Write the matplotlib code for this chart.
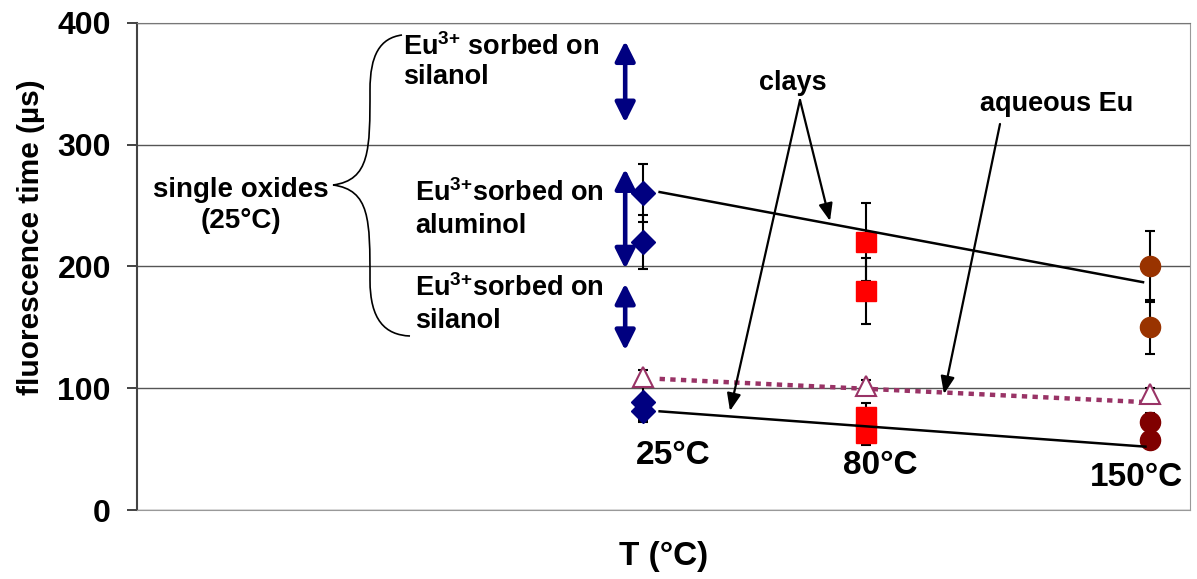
import matplotlib
matplotlib.use("Agg")
import matplotlib.pyplot as plt
from matplotlib.path import Path
from matplotlib.patches import PathPatch
import numpy as np

plt.rcParams['font.family'] = ['Liberation Sans', 'DejaVu Sans']
plt.rcParams['font.weight'] = 'bold'
plt.rcParams['mathtext.fontset'] = 'custom'
plt.rcParams['mathtext.rm'] = 'Liberation Sans'
plt.rcParams['mathtext.bf'] = 'Liberation Sans:bold'

# ---------------- data ----------------
temps = [25, 80, 150]
temp_labels = ["25°C", "80°C", "150°C"]

oxide_x = [25, 25]
oxide_y = [260, 220]
oxide_err = [24, 22]

clay25_x = [25, 25]
clay25_y = [89, 81]
clay25_err = [15, 9]

clay80_hi_x = [80, 80]
clay80_hi_y = [220, 180]
clay80_hi_err = [32, 27]
clay80_lo_x = [80, 80]
clay80_lo_y = [76, 63]
clay80_lo_err = [12, 10]

clay150_hi_x = [150, 150]
clay150_hi_y = [200, 150]
clay150_hi_err = [29, 22]
clay150_lo_x = [150, 150]
clay150_lo_y = [72, 57.5]
clay150_lo_err = [8, 6]

aq_x = [25, 80, 150]
aq_y = [109, 101.5, 95]
aq_err = [6, 5, 5]

aq_trend_x = [29, 148]
aq_trend_y = [107.6, 88.7]

guide_hi_x = [29, 148.4]
guide_hi_y = [261, 187]
guide_lo_x = [29, 149]
guide_lo_y = [81, 52]

# single-oxide ranges (25 °C), at x ~ 20.5
range_x = 20.5
range_silanol_top = (318, 385)
range_aluminol = (198, 280)
range_silanol_low = (131, 186)

yticks = [0, 100, 200, 300, 400]

# ---------------- figure ----------------
fig = plt.figure(figsize=(11.97, 5.79), dpi=100)
L, R, T, B = 137.3, 1190, 22.7, 510
W, H = 1197, 579
ax = fig.add_axes([L / W, 1 - B / H, (R - L) / W, (B - T) / H])
ax.set_xlim(-100, 160)
ax.set_ylim(0, 400)

def px(xp, yp):
    """convert reference pixel position to data coords (for annotations)"""
    return ((xp - L) / (R - L) * 260 - 100, (B - yp) / (B - T) * 400)

ax.set_yticks(yticks)
ax.set_xticks([])
ax.yaxis.grid(True, color='#555555', lw=1)
ax.set_axisbelow(True)
ax.spines['left'].set_color('#444444')
ax.spines['left'].set_linewidth(1.5)
ax.spines['bottom'].set_color('#999999')
ax.spines['right'].set_color('#999999')
ax.spines['top'].set_color('#777777')
ax.tick_params(axis='y', direction='out', length=7, width=1.2, color='#222222',
               labelsize=23, pad=12)
for lab in ax.get_yticklabels():
    lab.set_fontweight('bold')

ax.set_ylabel("fluorescence time (µs)", fontsize=21.5, fontweight='bold')
ax.yaxis.set_label_coords(-0.088, 0.56)
ax.set_xlabel("T (°C)", fontsize=24, fontweight='bold', labelpad=22)

eb_kw = dict(ecolor='black', elinewidth=1.5, capsize=3.3, capthick=1.5, ls='none', zorder=3)

ax.errorbar(oxide_x, oxide_y, yerr=oxide_err, fmt='D', color='#000080', ms=12, **eb_kw)
ax.errorbar(clay25_x, clay25_y, yerr=clay25_err, fmt='D', color='#000080', ms=12, **eb_kw)
ax.errorbar(clay80_hi_x, clay80_hi_y, yerr=clay80_hi_err, fmt='s', color='#FF0000', ms=14.5, **eb_kw)
ax.errorbar(clay80_lo_x, clay80_lo_y, yerr=clay80_lo_err, fmt='s', color='#FF0000', ms=14.5, **eb_kw)
ax.errorbar(clay150_hi_x, clay150_hi_y, yerr=clay150_hi_err, fmt='o', color='#993300', ms=14.5, **eb_kw)
ax.errorbar(clay150_lo_x, clay150_lo_y, yerr=clay150_lo_err, fmt='o', color='#800000', ms=14.5, **eb_kw)

ax.plot(aq_trend_x, aq_trend_y, color='#993366', lw=3.2, ls=(0, (1.2, 1.2)), zorder=2)
ax.errorbar(aq_x, aq_y, yerr=aq_err, fmt='^', mfc='white', mec='#993366', mew=1.5, ms=15,
            **eb_kw)

ax.plot(guide_hi_x, guide_hi_y, color='black', lw=1.8, zorder=4)
ax.plot(guide_lo_x, guide_lo_y, color='black', lw=1.8, zorder=4)

# double arrows for single oxides
for lo, hi in [range_silanol_top, range_aluminol, range_silanol_low]:
    ax.annotate('', xy=(range_x, hi), xytext=(range_x, lo),
                arrowprops=dict(arrowstyle='<|-|>,head_length=0.6,head_width=0.3',
                                color='#000080', lw=3.3, mutation_scale=20,
                                shrinkA=0, shrinkB=0), zorder=3)

# temperature labels
for t, lab, pos in zip(temps, temp_labels, [(673, 456), (880, 466), (1136, 477)]):
    ax.text(*px(*pos), lab, fontsize=24, fontweight='bold', ha='center', va='center')

# oxide texts
sup = "Eu$^{\\mathbf{3{+}}}$"
ax.text(*px(403, 62), sup + " sorbed on\nsilanol", fontsize=19.5,
        fontweight='bold', ha='left', va='center', linespacing=1.15)
ax.text(*px(415, 209), sup + "sorbed on\naluminol", fontsize=19.5,
        fontweight='bold', ha='left', va='center', linespacing=1.3)
ax.text(*px(415, 304), sup + "sorbed on\nsilanol", fontsize=19.5,
        fontweight='bold', ha='left', va='center', linespacing=1.3)
ax.text(*px(241, 205), "single oxides\n(25°C)", fontsize=20, fontweight='bold',
        ha='center', va='center', linespacing=1.25)

# curly brace
pts = [(402, 35), (380, 38), (370, 55), (370, 90),
       (370, 150), (370, 180), (333, 185),
       (370, 190), (370, 220), (370, 280),
       (370, 320), (385, 335), (410, 336)]
verts = [px(*p) for p in pts]
codes = [Path.MOVETO] + [Path.CURVE4] * 12
ax.add_patch(PathPatch(Path(verts, codes), fc='none', ec='black', lw=1.2, zorder=3))

# clays / aqueous annotations
ax.text(*px(793, 83), "clays", fontsize=19.5, fontweight='bold', ha='center', va='center')
ax.text(*px(1057, 104), "aqueous Eu", fontsize=19.5, fontweight='bold', ha='center', va='center')
arr = dict(arrowstyle='-|>,head_length=0.7,head_width=0.28', color='black', lw=1.6,
           mutation_scale=15, shrinkA=0, shrinkB=0)
ax.annotate('', xy=px(830, 221), xytext=px(800, 100), arrowprops=arr)
ax.annotate('', xy=px(730, 411), xytext=px(800, 100), arrowprops=arr)
ax.annotate('', xy=px(944, 394), xytext=px(1000, 124), arrowprops=arr)

fig.savefig("out.png", dpi=100)
